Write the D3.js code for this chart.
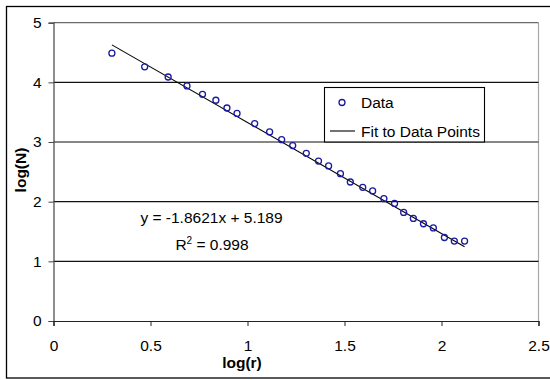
<!DOCTYPE html>
<html>
<head>
<meta charset="utf-8">
<script src="https://cdn.jsdelivr.net/npm/d3@7"></script>
<style>
  body { margin: 0; background: #fff; }
  svg { display: block; font-family: "Liberation Sans", Arial, sans-serif; }
</style>
</head>
<body>
<svg id="chart" width="550" height="380"></svg>
<script>
// Data
const logR = [0.301, 0.470, 0.591, 0.688, 0.768, 0.837, 0.894, 0.946, 1.037, 1.114,
              1.176, 1.233, 1.303, 1.366, 1.418, 1.479, 1.530, 1.594, 1.645, 1.703,
              1.758, 1.805, 1.855, 1.907, 1.958, 2.015, 2.066, 2.119];
const logN = [4.49, 4.26, 4.09, 3.94, 3.80, 3.70, 3.57, 3.48, 3.31, 3.17,
              3.04, 2.94, 2.81, 2.68, 2.60, 2.47, 2.33, 2.24, 2.18, 2.05,
              1.97, 1.82, 1.72, 1.63, 1.56, 1.40, 1.34, 1.34];
const fitSlope = -1.8621;
const fitIntercept = 5.189;
const xTicks = [0, 0.5, 1, 1.5, 2, 2.5];
const yTicks = [0, 1, 2, 3, 4, 5];
const equationText = "y = -1.8621x + 5.189";
const r2Text = "0.998";
const legendLabels = ["Data", "Fit to Data Points"];

const FS = 15.5;
const svg = d3.select("#chart");
const x = d3.scaleLinear().domain([0, 2.5]).range([53.5, 538.5]);
const y = d3.scaleLinear().domain([0, 5]).range([321, 22.7]);

// outer chart border (right side off canvas)
svg.append("rect").attr("x", 6.5).attr("y", 6.5).attr("width", 560).attr("height", 371.5)
  .attr("fill", "none").attr("stroke", "#000").attr("stroke-width", 1.3);

// plot area border: right side light gray
svg.append("line").attr("x1", x(2.5)).attr("x2", x(2.5)).attr("y1", y(5)).attr("y2", y(0))
  .attr("stroke", "#a8a8a8").attr("stroke-width", 1.2);

// gridlines
svg.append("g").selectAll("line").data(yTicks.filter(d => d > 0)).join("line")
  .attr("x1", x(0)).attr("x2", x(2.5))
  .attr("y1", d => y(d)).attr("y2", d => y(d))
  .attr("stroke", d => d === 5 ? "#6a6a6a" : "#111").attr("stroke-width", 1.2);

// y axis
const yAxis = d3.axisLeft(y).tickValues(yTicks).tickSize(5).tickPadding(7).tickFormat(d3.format("d"));
const gy = svg.append("g").attr("transform", `translate(${x(0)},0)`).call(yAxis);
gy.select(".domain").attr("stroke", "#444").attr("stroke-width", 1.2);
gy.selectAll(".tick line").attr("stroke", "#444");
gy.selectAll(".tick text").attr("font-size", FS).attr("fill", "#000")
  .attr("font-family", "Liberation Sans, Arial, sans-serif");

// x axis
const xAxis = d3.axisBottom(x).tickValues(xTicks).tickSize(5).tickPadding(14).tickFormat(d => String(d));
const gx = svg.append("g").attr("transform", `translate(0,${y(0)})`).call(xAxis);
gx.select(".domain").attr("stroke", "#222").attr("stroke-width", 1.2);
gx.selectAll(".tick line").attr("stroke", "#222");
gx.selectAll(".tick text").attr("font-size", FS).attr("fill", "#000")
  .attr("font-family", "Liberation Sans, Arial, sans-serif");

// axis titles
svg.append("text").attr("x", 242).attr("y", 368).attr("text-anchor", "middle")
  .attr("font-size", FS).attr("font-weight", "bold").text("log(r)");
svg.append("text").attr("transform", "translate(26,170) rotate(-90)").attr("text-anchor", "middle")
  .attr("font-size", FS).attr("font-weight", "bold").text("log(N)");

// fit line
const xExt = d3.extent(logR);
svg.append("line")
  .attr("x1", x(xExt[0])).attr("y1", y(fitSlope * xExt[0] + fitIntercept))
  .attr("x2", x(xExt[1])).attr("y2", y(fitSlope * xExt[1] + fitIntercept))
  .attr("stroke", "#000").attr("stroke-width", 1.1);

// data points
svg.append("g").selectAll("circle").data(logR).join("circle")
  .attr("cx", (d, i) => x(d)).attr("cy", (d, i) => y(logN[i])).attr("r", 3)
  .attr("fill", "none").attr("stroke", "#1a1aa0").attr("stroke-width", 1.3);

// equation
svg.append("text").attr("x", 211.5).attr("y", 223).attr("text-anchor", "middle")
  .attr("font-size", FS).text(equationText);
const r2 = svg.append("text").attr("x", 212).attr("y", 250).attr("text-anchor", "middle").attr("font-size", FS);
r2.append("tspan").text("R");
r2.append("tspan").attr("font-size", 10).attr("dy", -6).text("2");
r2.append("tspan").attr("dy", 6).text(" = " + r2Text);

// legend
const lg = svg.append("g");
lg.append("rect").attr("x", 324.5).attr("y", 87.5).attr("width", 160).attr("height", 54.5)
  .attr("fill", "#fff").attr("stroke", "#000").attr("stroke-width", 1.1);
lg.append("circle").attr("cx", 342).attr("cy", 102.5).attr("r", 3)
  .attr("fill", "none").attr("stroke", "#1a1aa0").attr("stroke-width", 1.3);
lg.append("text").attr("x", 361).attr("y", 108).attr("font-size", FS).text(legendLabels[0]);
lg.append("line").attr("x1", 330).attr("x2", 355).attr("y1", 131).attr("y2", 131)
  .attr("stroke", "#000").attr("stroke-width", 1.1);
lg.append("text").attr("x", 361).attr("y", 136.5).attr("font-size", FS).text(legendLabels[1]);
</script>
</body>
</html>
